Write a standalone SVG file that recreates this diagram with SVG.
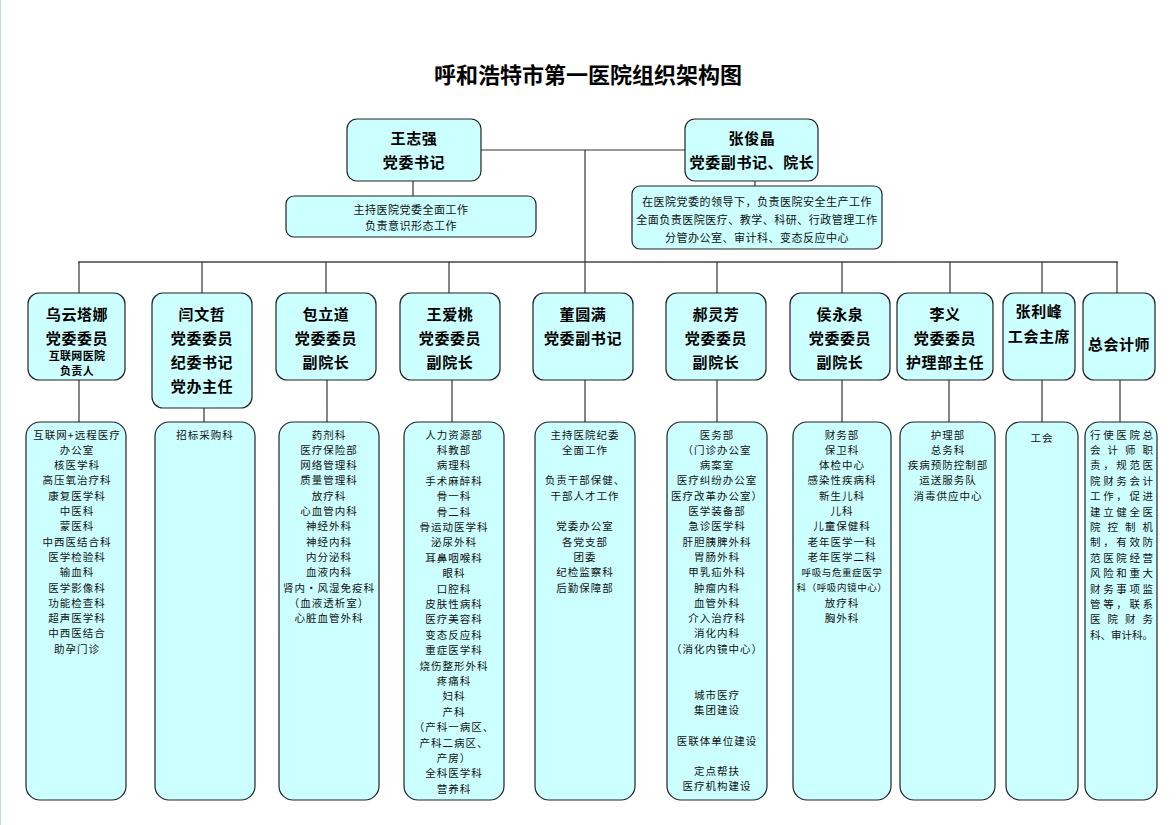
<svg xmlns="http://www.w3.org/2000/svg" width="1176" height="825" viewBox="0 0 1176 825">
<style>
.box{fill:#ccffff;stroke:#222;stroke-width:1.2}
.ln{stroke:#333;stroke-width:1.2;fill:none}
.h{font-family:"Noto Sans CJK SC",sans-serif;font-weight:bold;font-size:15px;letter-spacing:0.6px;text-anchor:middle;dominant-baseline:central;fill:#000}
.hs{font-family:"Noto Sans CJK SC",sans-serif;font-weight:bold;font-size:11px;letter-spacing:0.3px;text-anchor:middle;dominant-baseline:central;fill:#000}
.d{font-family:"Noto Sans CJK SC",sans-serif;font-size:11px;letter-spacing:0.5px;text-anchor:middle;dominant-baseline:central;fill:#111}
.t{font-family:"Noto Sans CJK SC",sans-serif;font-size:10.5px;letter-spacing:1px;text-anchor:middle;dominant-baseline:central;fill:#111}
.ts{font-family:"Noto Sans CJK SC",sans-serif;font-size:9.5px;letter-spacing:0.6px;text-anchor:middle;dominant-baseline:central;fill:#111}
.j{font-family:"Noto Sans CJK SC",sans-serif;font-size:10.5px;dominant-baseline:central;fill:#111}
</style>
<rect x="0" y="0" width="1176" height="825" fill="#ffffff"/>
<line x1="0.5" y1="0" x2="0.5" y2="825" stroke="#bfdcdc" stroke-width="1"/>
<text x="588" y="73" font-family="Noto Sans CJK SC, sans-serif" font-weight="bold" font-size="22" text-anchor="middle" dominant-baseline="central">呼和浩特市第一医院组织架构图</text>

<g id="connectors">
<line class="ln" x1="480" y1="150" x2="685" y2="150"/>
<line class="ln" x1="585" y1="150" x2="585" y2="262"/>
<line class="ln" x1="413" y1="181" x2="413" y2="196"/>
<line class="ln" x1="755" y1="181" x2="755" y2="186"/>
<line x1="78" y1="262" x2="1118" y2="262" stroke="#444" stroke-width="1.5"/>
<line class="ln" x1="79" y1="262" x2="79" y2="293"/>
<line class="ln" x1="202" y1="262" x2="202" y2="293"/>
<line class="ln" x1="326" y1="262" x2="326" y2="293"/>
<line class="ln" x1="449" y1="262" x2="449" y2="293"/>
<line class="ln" x1="585" y1="262" x2="585" y2="293"/>
<line class="ln" x1="717" y1="262" x2="717" y2="293"/>
<line class="ln" x1="842" y1="262" x2="842" y2="293"/>
<line class="ln" x1="950" y1="262" x2="950" y2="293"/>
<line class="ln" x1="1042" y1="262" x2="1042" y2="293"/>
<line class="ln" x1="1117" y1="262" x2="1117" y2="293"/>
<line class="ln" x1="79" y1="380" x2="79" y2="422"/>
<line class="ln" x1="204" y1="408" x2="204" y2="422"/>
<line class="ln" x1="327" y1="380" x2="327" y2="422"/>
<line class="ln" x1="452" y1="380" x2="452" y2="422"/>
<line class="ln" x1="585" y1="380" x2="585" y2="422"/>
<line class="ln" x1="717" y1="380" x2="717" y2="422"/>
<line class="ln" x1="842" y1="380" x2="842" y2="422"/>
<line class="ln" x1="949" y1="380" x2="949" y2="422"/>
<line class="ln" x1="1042" y1="380" x2="1042" y2="422"/>
<line class="ln" x1="1120" y1="380" x2="1120" y2="422"/>
</g>

<g id="n-wang">
<rect class="box" x="347" y="119" width="134" height="62" rx="10"/>
<text class="h" x="414" y="137">王志强</text>
<text class="h" x="414" y="161">党委书记</text>
</g>
<g id="n-zhang">
<rect class="box" x="685" y="119" width="133" height="62" rx="10"/>
<text class="h" x="752" y="137">张俊晶</text>
<text class="h" x="752" y="161">党委副书记、院长</text>
</g>
<g id="d-wang">
<rect class="box" x="286" y="196" width="250" height="41" rx="8"/>
<text class="d" x="411" y="209">主持医院党委全面工作</text>
<text class="d" x="411" y="225">负责意识形态工作</text>
</g>
<g id="d-zhang">
<rect class="box" x="632" y="186" width="250" height="63" rx="8"/>
<text class="d" x="757" y="201">在医院党委的领导下，负责医院安全生产工作</text>
<text class="d" x="757" y="219">全面负责医院医疗、教学、科研、行政管理工作</text>
<text class="d" x="757" y="237">分管办公室、审计科、变态反应中心</text>
</g>

<g id="n1">
<rect class="box" x="28" y="293" width="97" height="87" rx="11"/>
<text class="h" x="77" y="313">乌云塔娜</text>
<text class="h" x="77" y="337">党委委员</text>
<text class="hs" x="77" y="355">互联网医院</text>
<text class="hs" x="77" y="370">负责人</text>
</g>
<g id="n2">
<rect class="box" x="152" y="293" width="100" height="115" rx="11"/>
<text class="h" x="202" y="313">闫文哲</text>
<text class="h" x="202" y="337">党委委员</text>
<text class="h" x="202" y="361">纪委书记</text>
<text class="h" x="202" y="385">党办主任</text>
</g>
<g id="n3">
<rect class="box" x="276" y="293" width="100" height="87" rx="11"/>
<text class="h" x="326" y="313">包立道</text>
<text class="h" x="326" y="337">党委委员</text>
<text class="h" x="326" y="361">副院长</text>
</g>
<g id="n4">
<rect class="box" x="400" y="293" width="100" height="87" rx="11"/>
<text class="h" x="450" y="313">王爱桃</text>
<text class="h" x="450" y="337">党委委员</text>
<text class="h" x="450" y="361">副院长</text>
</g>
<g id="n5">
<rect class="box" x="533" y="293" width="100" height="87" rx="11"/>
<text class="h" x="583" y="313">董圆满</text>
<text class="h" x="583" y="337">党委副书记</text>
</g>
<g id="n6">
<rect class="box" x="666" y="293" width="100" height="87" rx="11"/>
<text class="h" x="716" y="313">郝灵芳</text>
<text class="h" x="716" y="337">党委委员</text>
<text class="h" x="716" y="361">副院长</text>
</g>
<g id="n7">
<rect class="box" x="790" y="293" width="100" height="87" rx="11"/>
<text class="h" x="840" y="313">侯永泉</text>
<text class="h" x="840" y="337">党委委员</text>
<text class="h" x="840" y="361">副院长</text>
</g>
<g id="n8">
<rect class="box" x="897" y="293" width="96" height="87" rx="11"/>
<text class="h" x="945" y="313">李义</text>
<text class="h" x="945" y="337">党委委员</text>
<text class="h" x="945" y="361">护理部主任</text>
</g>
<g id="n9">
<rect class="box" x="1003" y="293" width="72" height="87" rx="11"/>
<text class="h" x="1039" y="310">张利峰</text>
<text class="h" x="1039" y="335">工会主席</text>
</g>
<g id="n10">
<rect class="box" x="1083" y="293" width="72" height="87" rx="11"/>
<text class="h" x="1119" y="343">总会计师</text>
</g>

<g id="l1">
<rect class="box" x="26" y="422" width="100" height="378" rx="14"/>
<text class="t" x="77" y="434">互联网+远程医疗</text>
<text class="t" x="77" y="449.3">办公室</text>
<text class="t" x="77" y="464.6">核医学科</text>
<text class="t" x="77" y="479.9">高压氧治疗科</text>
<text class="t" x="77" y="495.2">康复医学科</text>
<text class="t" x="77" y="510.5">中医科</text>
<text class="t" x="77" y="525.8">蒙医科</text>
<text class="t" x="77" y="541.1">中西医结合科</text>
<text class="t" x="77" y="556.4">医学检验科</text>
<text class="t" x="77" y="571.7">输血科</text>
<text class="t" x="77" y="587">医学影像科</text>
<text class="t" x="77" y="602.3">功能检查科</text>
<text class="t" x="77" y="617.6">超声医学科</text>
<text class="t" x="77" y="632.9">中西医结合</text>
<text class="t" x="77" y="648.2">助孕门诊</text>
</g>
<g id="l2">
<rect class="box" x="155" y="422" width="100" height="378" rx="14"/>
<text class="t" x="205" y="434">招标采购科</text>
</g>
<g id="l3">
<rect class="box" x="279" y="422" width="100" height="378" rx="14"/>
<text class="t" x="329" y="434">药剂科</text>
<text class="t" x="329" y="449.3">医疗保险部</text>
<text class="t" x="329" y="464.6">网络管理科</text>
<text class="t" x="329" y="479.9">质量管理科</text>
<text class="t" x="329" y="495.2">放疗科</text>
<text class="t" x="329" y="510.5">心血管内科</text>
<text class="t" x="329" y="525.8">神经外科</text>
<text class="t" x="329" y="541.1">神经内科</text>
<text class="t" x="329" y="556.4">内分泌科</text>
<text class="t" x="329" y="571.7">血液内科</text>
<text class="t" x="329" y="587">肾内·风湿免疫科</text>
<text class="t" x="329" y="602.3">（血液透析室）</text>
<text class="t" x="329" y="617.6">心脏血管外科</text>
</g>
<g id="l4">
<rect class="box" x="404" y="422" width="100" height="378" rx="14"/>
<text class="t" x="454" y="434">人力资源部</text>
<text class="t" x="454" y="449.4">科教部</text>
<text class="t" x="454" y="464.8">病理科</text>
<text class="t" x="454" y="480.2">手术麻醉科</text>
<text class="t" x="454" y="495.6">骨一科</text>
<text class="t" x="454" y="511">骨二科</text>
<text class="t" x="454" y="526.4">骨运动医学科</text>
<text class="t" x="454" y="541.8">泌尿外科</text>
<text class="t" x="454" y="557.2">耳鼻咽喉科</text>
<text class="t" x="454" y="572.6">眼科</text>
<text class="t" x="454" y="588">口腔科</text>
<text class="t" x="454" y="603.4">皮肤性病科</text>
<text class="t" x="454" y="618.8">医疗美容科</text>
<text class="t" x="454" y="634.2">变态反应科</text>
<text class="t" x="454" y="649.6">重症医学科</text>
<text class="t" x="454" y="665">烧伤整形外科</text>
<text class="t" x="454" y="680.4">疼痛科</text>
<text class="t" x="454" y="695.8">妇科</text>
<text class="t" x="454" y="711.2">产科</text>
<text class="t" x="454" y="726.6">（产科一病区、</text>
<text class="t" x="454" y="742">产科二病区、</text>
<text class="t" x="454" y="757.4">产房）</text>
<text class="t" x="454" y="772.8">全科医学科</text>
<text class="t" x="454" y="788.2">营养科</text>
</g>
<g id="l5">
<rect class="box" x="535" y="422" width="100" height="378" rx="14"/>
<text class="t" x="585" y="434">主持医院纪委</text>
<text class="t" x="585" y="449.3">全面工作</text>
<text class="t" x="585" y="479.9">负责干部保健、</text>
<text class="t" x="585" y="495.2">干部人才工作</text>
<text class="t" x="585" y="525.8">党委办公室</text>
<text class="t" x="585" y="541.1">各党支部</text>
<text class="t" x="585" y="556.4">团委</text>
<text class="t" x="585" y="571.7">纪检监察科</text>
<text class="t" x="585" y="587">后勤保障部</text>
</g>
<g id="l6">
<rect class="box" x="667" y="422" width="100" height="378" rx="14"/>
<text class="t" x="717" y="434">医务部</text>
<text class="t" x="717" y="449.3">（门诊办公室</text>
<text class="t" x="717" y="464.6">病案室</text>
<text class="t" x="717" y="479.9">医疗纠纷办公室</text>
<text class="t" x="717" y="495.2">医疗改革办公室）</text>
<text class="t" x="717" y="510.5">医学装备部</text>
<text class="t" x="717" y="525.8">急诊医学科</text>
<text class="t" x="717" y="541.1">肝胆胰脾外科</text>
<text class="t" x="717" y="556.4">胃肠外科</text>
<text class="t" x="717" y="571.7">甲乳疝外科</text>
<text class="t" x="717" y="587">肿瘤内科</text>
<text class="t" x="717" y="602.3">血管外科</text>
<text class="t" x="717" y="617.6">介入治疗科</text>
<text class="t" x="717" y="632.9">消化内科</text>
<text class="t" x="717" y="648.2">（消化内镜中心）</text>
<text class="t" x="717" y="694.1">城市医疗</text>
<text class="t" x="717" y="709.4">集团建设</text>
<text class="t" x="717" y="740">医联体单位建设</text>
<text class="t" x="717" y="770.6">定点帮扶</text>
<text class="t" x="717" y="785.9">医疗机构建设</text>
</g>
<g id="l7">
<rect class="box" x="793" y="422" width="98" height="378" rx="14"/>
<text class="t" x="842" y="434">财务部</text>
<text class="t" x="842" y="449.3">保卫科</text>
<text class="t" x="842" y="464.6">体检中心</text>
<text class="t" x="842" y="479.9">感染性疾病科</text>
<text class="t" x="842" y="495.2">新生儿科</text>
<text class="t" x="842" y="510.5">儿科</text>
<text class="t" x="842" y="525.8">儿童保健科</text>
<text class="t" x="842" y="541.1">老年医学一科</text>
<text class="t" x="842" y="556.4">老年医学二科</text>
<text class="ts" x="842" y="571.7">呼吸与危重症医学</text>
<text class="ts" x="842" y="587">科（呼吸内镜中心）</text>
<text class="t" x="842" y="602.3">放疗科</text>
<text class="t" x="842" y="617.6">胸外科</text>
</g>
<g id="l8">
<rect class="box" x="900" y="422" width="95" height="378" rx="14"/>
<text class="t" x="948" y="434">护理部</text>
<text class="t" x="948" y="449.3">总务科</text>
<text class="t" x="948" y="464.6">疾病预防控制部</text>
<text class="t" x="948" y="479.9">运送服务队</text>
<text class="t" x="948" y="495.2">消毒供应中心</text>
</g>
<g id="l9">
<rect class="box" x="1006" y="422" width="72" height="378" rx="14"/>
<text class="t" x="1042" y="437">工会</text>
</g>
<g id="l10">
<rect class="box" x="1085" y="422" width="72" height="378" rx="14"/>
<text class="j" x="1090" y="434" textLength="63" lengthAdjust="spacing">行使医院总</text>
<text class="j" x="1090" y="449.4" textLength="63" lengthAdjust="spacing">会计师职</text>
<text class="j" x="1090" y="464.8" textLength="63" lengthAdjust="spacing">责，规范医</text>
<text class="j" x="1090" y="480.2" textLength="63" lengthAdjust="spacing">院财务会计</text>
<text class="j" x="1090" y="495.6" textLength="63" lengthAdjust="spacing">工作，促进</text>
<text class="j" x="1090" y="511" textLength="63" lengthAdjust="spacing">建立健全医</text>
<text class="j" x="1090" y="526.4" textLength="63" lengthAdjust="spacing">院控制机</text>
<text class="j" x="1090" y="541.8" textLength="63" lengthAdjust="spacing">制，有效防</text>
<text class="j" x="1090" y="557.2" textLength="63" lengthAdjust="spacing">范医院经营</text>
<text class="j" x="1090" y="572.6" textLength="63" lengthAdjust="spacing">风险和重大</text>
<text class="j" x="1090" y="588" textLength="63" lengthAdjust="spacing">财务事项监</text>
<text class="j" x="1090" y="603.4" textLength="63" lengthAdjust="spacing">管等，联系</text>
<text class="j" x="1090" y="618.8" textLength="63" lengthAdjust="spacing">医院财务</text>
<text class="j" x="1090" y="634.2" textLength="63" lengthAdjust="spacing">科、审计科。</text>
</g>
</svg>
